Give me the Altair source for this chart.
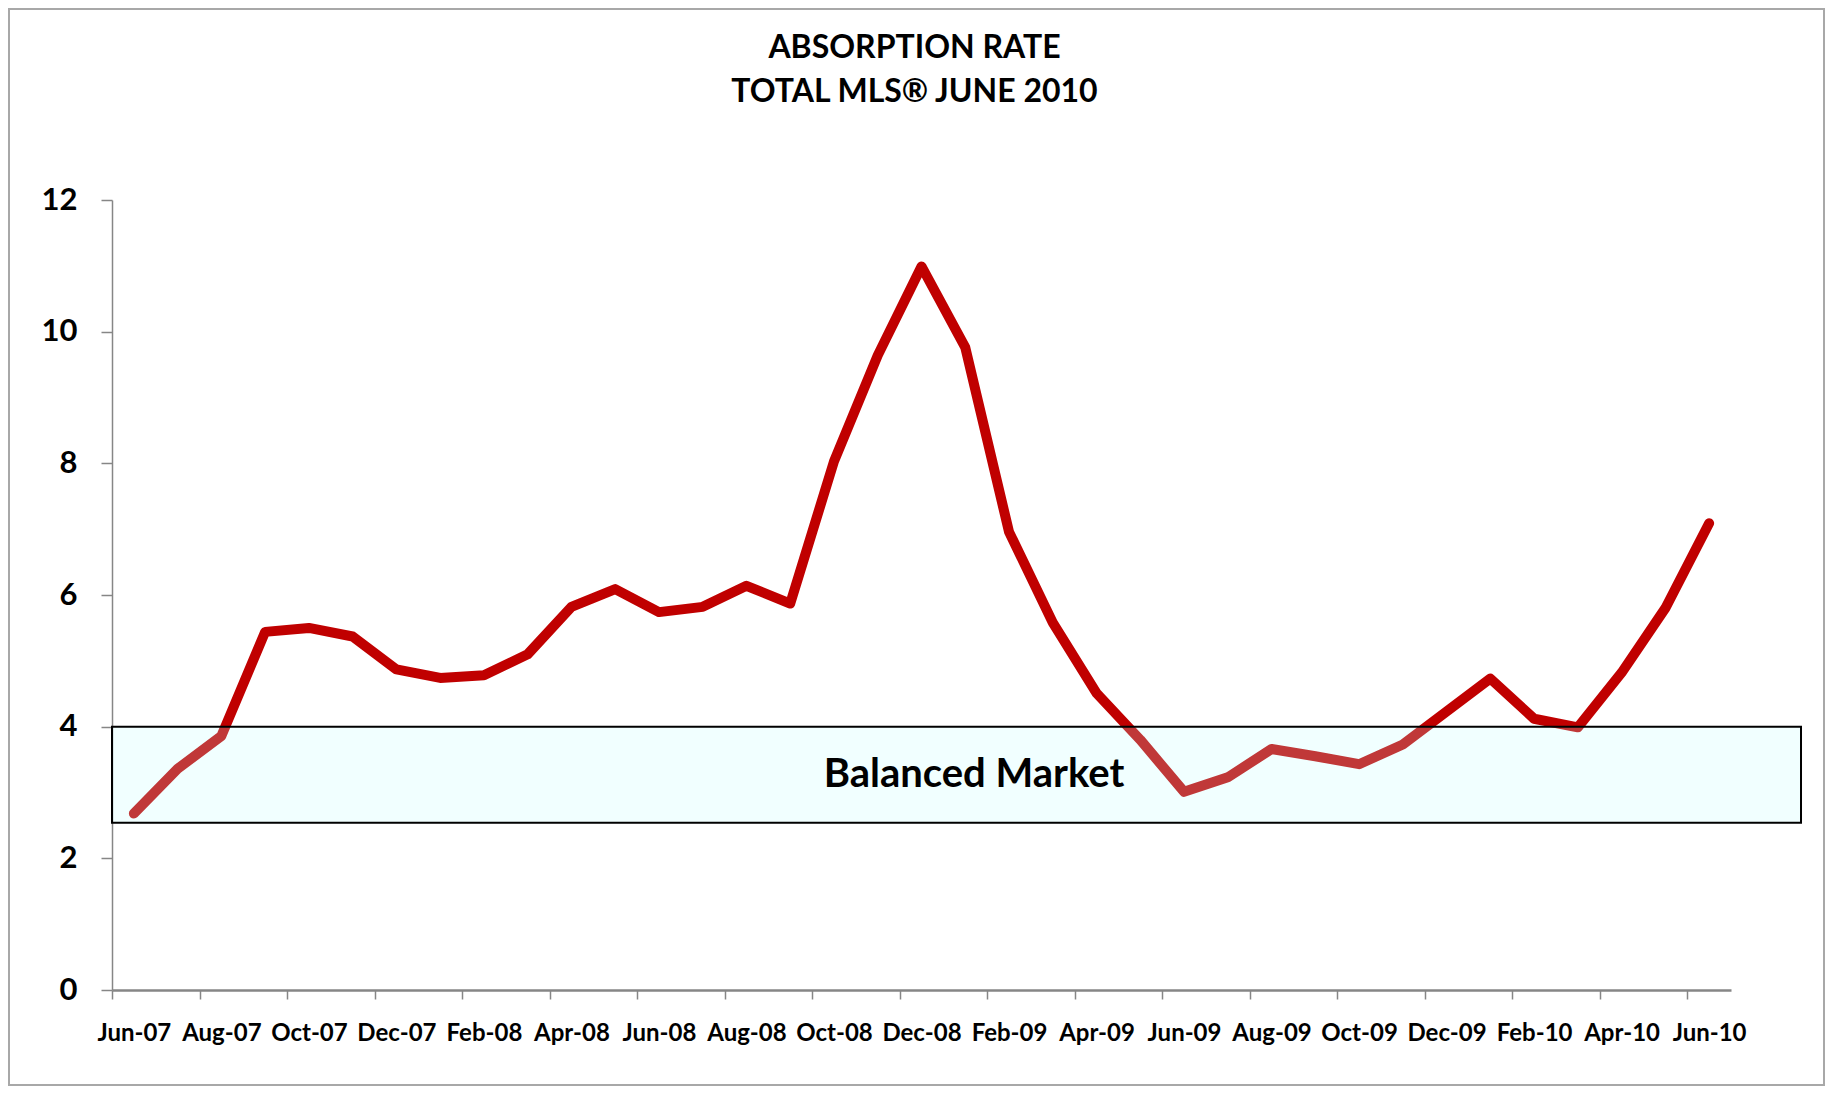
import altair as alt
import pandas as pd

months = ["Jun-07", "Jul-07", "Aug-07", "Sep-07", "Oct-07", "Nov-07", "Dec-07",
          "Jan-08", "Feb-08", "Mar-08", "Apr-08", "May-08", "Jun-08", "Jul-08",
          "Aug-08", "Sep-08", "Oct-08", "Nov-08", "Dec-08", "Jan-09", "Feb-09",
          "Mar-09", "Apr-09", "May-09", "Jun-09", "Jul-09", "Aug-09", "Sep-09",
          "Oct-09", "Nov-09", "Dec-09", "Jan-10", "Feb-10", "Mar-10", "Apr-10",
          "May-10", "Jun-10"]
rate = [2.68, 3.36, 3.86, 5.44, 5.50, 5.37, 4.87, 4.74, 4.78, 5.10, 5.82, 6.09,
        5.74, 5.82, 6.14, 5.87, 8.03, 9.64, 10.99, 9.76, 6.96, 5.58, 4.51, 3.80,
        3.01, 3.23, 3.66, 3.55, 3.43, 3.73, 4.23, 4.73, 4.12, 3.99, 4.82, 5.80,
        7.09]

band_low = [2.54]
band_high = [4.0]
band_x_start = [-0.5]
band_x_end = [38.1]
band_label = ["Balanced Market"]
band_label_x = [19.2]

y_ticks = [0, 2, 4, 6, 8, 10, 12]

FONT = "Lato"
W, H = 1619, 790
half = W / 37 / 2

df = pd.DataFrame({"i": list(range(len(months))), "month": months, "rate": rate})
band_df = pd.DataFrame({"x": band_x_start, "x2": band_x_end, "lo": band_low,
                        "hi": band_high, "label": band_label, "lx": band_label_x})
band_df["ly"] = (band_df["lo"] + band_df["hi"]) / 2

label_arr = "[" + ",".join("'%s'" % m for m in months) + "]"

xscale = alt.Scale(domain=[-0.5, 36.5], nice=False, zero=False)
yscale = alt.Scale(domain=[0, 12], nice=False)

line = alt.Chart(df).mark_line(
    color="#C00000", strokeWidth=10, strokeCap="round", strokeJoin="round"
).encode(
    x=alt.X("i:Q", scale=xscale, title=None,
            axis=alt.Axis(values=list(range(0, 37, 2)), labelExpr=label_arr + "[datum.value]",
                          tickOffset=-half, labelOffset=half, grid=False,
                          domainColor="#868686", domainWidth=2.5, tickColor="#868686",
                          tickWidth=1.5, tickSize=9, labelPadding=22,
                          labelFont=FONT, labelFontSize=24, labelFontWeight="bold",
                          labelColor="black", labelFlush=False, labelOverlap=False)),
    y=alt.Y("rate:Q", scale=yscale, title=None,
            axis=alt.Axis(values=y_ticks, format="d", grid=False, domainColor="#868686",
                          domainWidth=1.5, tickColor="#868686", tickWidth=1.5,
                          tickSize=11, labelPadding=24, labelFont=FONT,
                          labelFontSize=31, labelFontWeight="bold", labelColor="black")),
)

band = alt.Chart(band_df).mark_rect(
    fill="#C0FFFF", fillOpacity=0.22, stroke="black", strokeWidth=2
).encode(
    x=alt.X("x:Q", scale=xscale), x2="x2:Q",
    y=alt.Y("lo:Q", scale=yscale), y2="hi:Q",
)

band_text = alt.Chart(band_df).mark_text(
    font=FONT, fontSize=40, fontWeight="bold", color="black",
    align="center", baseline="middle"
).encode(
    x=alt.X("lx:Q", scale=xscale), y=alt.Y("ly:Q", scale=yscale), text="label:N"
)

frame = alt.Chart(band_df).mark_rect(
    fill=None, stroke="#a8a8a8", strokeWidth=2
).encode(
    x=alt.value(-103), x2=alt.value(1712), y=alt.value(-191), y2=alt.value(885)
)

chart = alt.layer(frame, line, band, band_text).properties(
    width=W, height=H,
    padding={"left": 104, "top": 192, "right": 94, "bottom": 96},
    autosize=alt.AutoSizeParams(type="none"),
    background="white",
    title=alt.TitleParams(
        text=["ABSORPTION RATE", "TOTAL MLS® JUNE 2010"],
        font=FONT, fontSize=32, fontWeight="bold", color="black",
        anchor="middle", lineHeight=44, offset=-101, dx=-7,
    ),
).configure_view(stroke=None, strokeWidth=0)

chart.save("out.html", embed_options={"renderer": "svg", "actions": False})
